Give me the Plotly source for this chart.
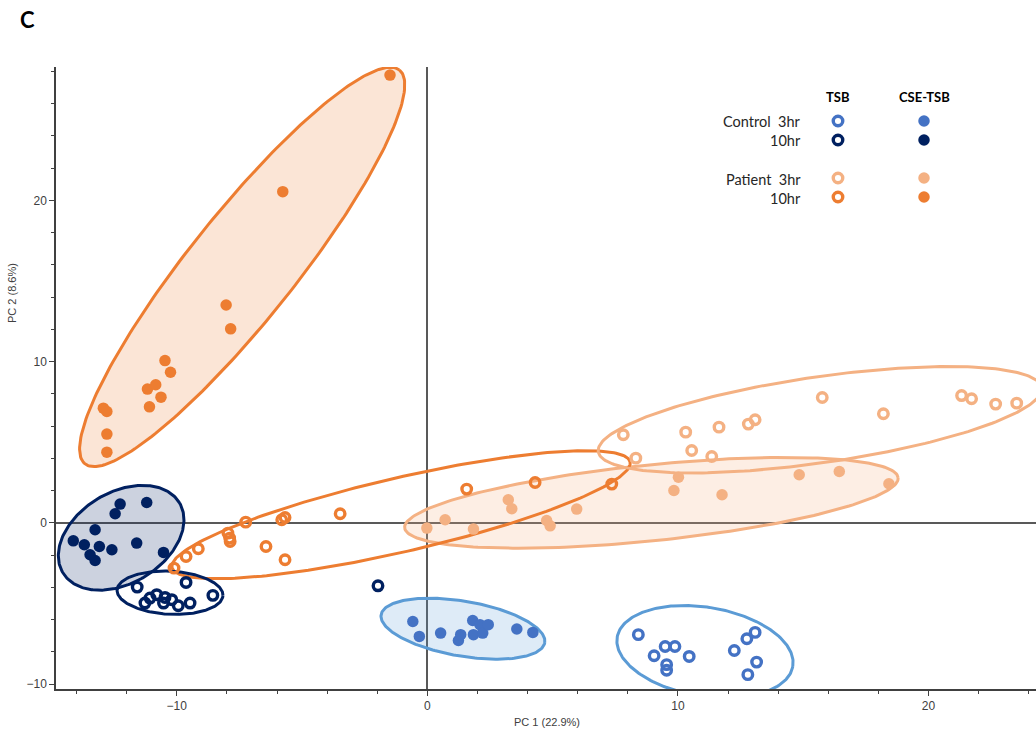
import numpy as np
import plotly.graph_objects as go

# ---------------- PCA scores (PC1, PC2) per group ----------------
# Control 3hr
c3_tsb_x = [8.42, 9.05, 9.49, 9.88, 10.45, 9.55, 9.55, 12.25, 12.75, 13.08, 13.14, 12.79]
c3_tsb_y = [-6.94, -8.25, -7.67, -7.67, -8.29, -8.80, -9.15, -7.92, -7.19, -6.80, -8.64, -9.42]
c3_cse_x = [-0.58, -0.32, 0.53, 1.24, 1.33, 1.81, 1.84, 2.10, 2.21, 2.43, 3.57, 4.21]
c3_cse_y = [-6.12, -7.05, -6.84, -7.30, -6.94, -6.06, -6.94, -6.32, -6.84, -6.32, -6.59, -6.80]
# Control 10hr
c10_tsb_x = [-11.58, -9.63, -8.56, -11.07, -10.80, -11.27, -10.47, -10.20, -10.53, -9.94, -9.47, -1.97]
c10_tsb_y = [-3.99, -3.70, -4.50, -4.67, -4.46, -4.98, -4.63, -4.77, -4.98, -5.15, -4.98, -3.91]
c10_cse_x = [-12.26, -12.46, -11.20, -13.26, -14.13, -13.69, -13.09, -12.59, -13.46, -13.26, -11.60, -10.53]
c10_cse_y = [1.16, 0.56, 1.26, -0.43, -1.12, -1.36, -1.47, -1.67, -1.98, -2.34, -1.26, -1.84]
# Patient 3hr
p3_tsb_x = [7.82, 8.32, 10.31, 10.55, 11.64, 11.35, 12.81, 13.08, 15.76, 18.20, 21.32, 21.72, 22.68, 23.52]
p3_tsb_y = [5.46, 4.01, 5.62, 4.48, 5.93, 4.11, 6.12, 6.39, 7.77, 6.76, 7.89, 7.69, 7.36, 7.42]
p3_cse_x = [-0.02, 0.71, 1.84, 3.23, 3.37, 4.76, 4.90, 5.96, 10.02, 9.84, 11.76, 14.84, 16.44, 18.42]
p3_cse_y = [-0.33, 0.19, -0.39, 1.43, 0.87, 0.14, -0.19, 0.85, 2.83, 2.00, 1.74, 2.98, 3.18, 2.42]
# Patient 10hr
p10_tsb_x = [-10.11, -9.63, -9.14, -7.96, -7.89, -7.87, -7.25, -6.44, -5.81, -5.68, -5.68, -3.48, 1.57, 4.30, 7.36]
p10_tsb_y = [-2.81, -2.09, -1.61, -0.64, -0.95, -1.16, 0.04, -1.47, 0.19, 0.33, -2.29, 0.56, 2.09, 2.50, 2.40]
p10_cse_x = [-1.49, -5.77, -8.03, -7.85, -10.47, -10.25, -11.17, -10.84, -10.63, -11.09, -12.93, -12.79, -12.79, -12.79]
p10_cse_y = [27.77, 20.54, 13.51, 12.03, 10.06, 9.34, 8.29, 8.56, 7.79, 7.19, 7.11, 6.90, 5.50, 4.38]

# ---------------- styling ----------------
BLUE, NAVY, LORANGE, ORANGE = "#4472C4", "#002060", "#F4B183", "#ED7D31"
AXIS_GREY = "#404040"
TICK_FONT = dict(family="Liberation Sans, Arial, sans-serif", size=12, color=AXIS_GREY)
LEG_FONT = "Lato, Open Sans, sans-serif"

W, H = 1036, 734
ML, MR, MT, MB = 56, 0, 67, 45
X_RANGE = [-14.82, 24.29]
Y_RANGE = [-10.31, 28.27]
PLOT_W = W - ML - MR
PLOT_H = H - MT - MB
SX = PLOT_W / (X_RANGE[1] - X_RANGE[0])   # px per PC1 unit
SY = PLOT_H / (Y_RANGE[1] - Y_RANGE[0])   # px per PC2 unit


def ellipse(cx, cy, a, b, tilt):
    """Closed ellipse path around (cx, cy); a/b are screen-pixel semi-axes, tilt in degrees."""
    t = np.linspace(0, 2 * np.pi, 240)
    th = np.radians(tilt)
    u, v = a * np.cos(t), b * np.sin(t)
    dx = u * np.cos(th) - v * np.sin(th)
    dy = u * np.sin(th) + v * np.cos(th)
    return cx + dx / SX, cy + dy / SY


# group outlines: centre (PC units), semi-axes (px), tilt, line colour, fill
group_rings = [
    dict(c=(-7.39, 15.87), a=252, b=53, tilt=51.4, line=ORANGE, fill="rgba(237,125,49,0.2)"),
    dict(c=(8.94, 1.24), a=248, b=38, tilt=5.8, line=LORANGE, fill="rgba(244,177,131,0.22)"),
    dict(c=(1.42, -6.57), a=83, b=27.5, tilt=-9.7, line="#5B9BD5", fill="rgba(91,155,213,0.2)"),
    dict(c=(-12.22, -0.93), a=68, b=45.5, tilt=31, line=NAVY, fill="rgba(0,32,96,0.2)"),
    dict(c=(-1.05, 0.50), a=235, b=37, tilt=13, line=ORANGE, fill=None),
    dict(c=(15.67, 6.39), a=224, b=43, tilt=8.2, line=LORANGE, fill=None),
    dict(c=(11.08, -8.0), a=89, b=44.5, tilt=-9.4, line="#5B9BD5", fill=None),
    dict(c=(-10.27, -4.34), a=53, b=21.5, tilt=-3, line=NAVY, fill=None),
]

fig = go.Figure()

for g in group_rings:
    ex, ey = ellipse(g["c"][0], g["c"][1], g["a"], g["b"], g["tilt"])
    fig.add_trace(go.Scatter(
        x=ex, y=ey, mode="lines",
        line=dict(color=g["line"], width=3),
        fill="toself" if g["fill"] else None,
        fillcolor=g["fill"] if g["fill"] else None,
        hoverinfo="skip", showlegend=False,
    ))

OPEN = dict(symbol="circle-open", size=9.5, line=dict(width=3.4))
SOLID = dict(symbol="circle", size=11.5, line=dict(width=0))

series = [
    ("Patient 10hr TSB", p10_tsb_x, p10_tsb_y, ORANGE, OPEN),
    ("Patient 10hr CSE-TSB", p10_cse_x, p10_cse_y, ORANGE, SOLID),
    ("Patient 3hr TSB", p3_tsb_x, p3_tsb_y, LORANGE, OPEN),
    ("Patient 3hr CSE-TSB", p3_cse_x, p3_cse_y, LORANGE, SOLID),
    ("Control 10hr TSB", c10_tsb_x, c10_tsb_y, NAVY, OPEN),
    ("Control 10hr CSE-TSB", c10_cse_x, c10_cse_y, NAVY, SOLID),
    ("Control 3hr TSB", c3_tsb_x, c3_tsb_y, BLUE, OPEN),
    ("Control 3hr CSE-TSB", c3_cse_x, c3_cse_y, BLUE, SOLID),
]
for name, xs, ys, col, mk in series:
    fig.add_trace(go.Scatter(
        x=xs, y=ys, mode="markers", name=name,
        marker=dict(color=col, **mk), showlegend=False,
    ))

# ---------------- key (drawn on a pixel overlay axis) ----------------
KEY_COLS = {"TSB": 838, "CSE-TSB": 924}
KEY_ROWS = [(121, BLUE), (140, NAVY), (178, LORANGE), (197, ORANGE)]
for col_name, kx in KEY_COLS.items():
    mk = OPEN if col_name == "TSB" else SOLID
    fig.add_trace(go.Scatter(
        x=[kx] * len(KEY_ROWS), y=[r for r, _ in KEY_ROWS], mode="markers",
        marker=dict(color=[c for _, c in KEY_ROWS], **mk),
        xaxis="x2", yaxis="y2", hoverinfo="skip", showlegend=False,
    ))


def px_x(p):
    return (p - ML) / PLOT_W


def px_y(p):
    return (H - MB - p) / PLOT_H


annotations = []
for col_name, kx in KEY_COLS.items():
    annotations.append(dict(text=f"<b>{col_name}</b>", x=px_x(kx), y=px_y(97),
                            font=dict(family=LEG_FONT, size=13, color="#000000")))
key_labels = [("Control  3hr", 121), ("10hr", 140), ("Patient  3hr", 179), ("10hr", 198)]
for txt, ry in key_labels:
    annotations.append(dict(text=txt, x=px_x(803), y=px_y(ry), xanchor="right",
                            font=dict(family=LEG_FONT, size=14.5, color="#262626")))

annotations += [
    dict(text="<b>C</b>", x=px_x(27), y=px_y(19),
         font=dict(family=LEG_FONT, size=22, color="#000000")),
    dict(text="PC 1 (22.9%)", x=px_x(547), y=px_y(722),
         font=dict(family="Liberation Sans, Arial, sans-serif", size=11, color=AXIS_GREY)),
    dict(text="PC 2 (8.6%)", x=px_x(12), y=px_y(293), textangle=-90,
         font=dict(family="Liberation Sans, Arial, sans-serif", size=11, color=AXIS_GREY)),
]
for a in annotations:
    a.update(xref="paper", yref="paper", showarrow=False)
    a.setdefault("xanchor", "center")
    a.setdefault("yanchor", "middle")

axis_common = dict(
    showgrid=False, zeroline=True, zerolinecolor="#595959", zerolinewidth=1.5,
    showline=True, linecolor=AXIS_GREY, linewidth=1.5,
    ticks="outside", ticklen=5, tickwidth=1.2, tickcolor=AXIS_GREY,
    dtick=10, tickfont=TICK_FONT,
    minor=dict(dtick=2, ticks="outside", ticklen=3, tickwidth=1.2, tickcolor=AXIS_GREY, showgrid=False),
    fixedrange=True,
)

fig.update_layout(
    width=W, height=H, autosize=False,
    margin=dict(l=ML, r=MR, t=MT, b=MB, pad=0),
    paper_bgcolor="white", plot_bgcolor="white",
    showlegend=False,
    xaxis=dict(range=X_RANGE, **axis_common),
    yaxis=dict(range=Y_RANGE, **axis_common),
    xaxis2=dict(overlaying="x", range=[ML, W - MR], visible=False, fixedrange=True),
    yaxis2=dict(overlaying="y", range=[H - MB, MT], visible=False, fixedrange=True),
    annotations=annotations,
)

fig.write_html("out.html")
